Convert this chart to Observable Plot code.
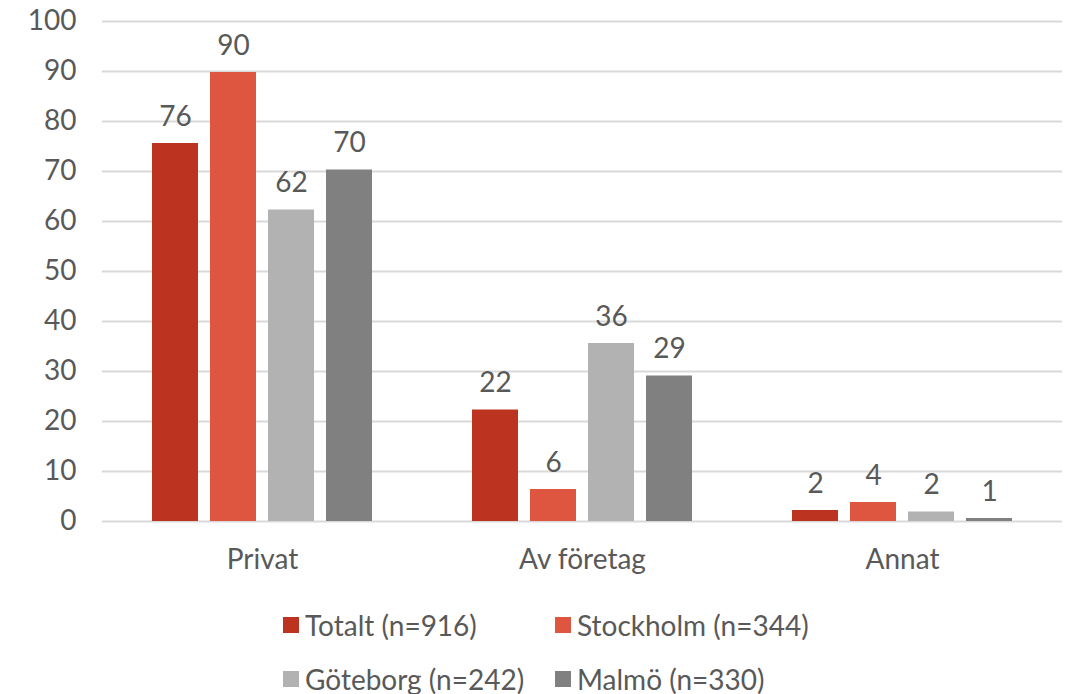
<!DOCTYPE html>
<html>
<head>
<meta charset="utf-8">
<script src="https://cdn.jsdelivr.net/npm/d3@7"></script>
<script src="https://cdn.jsdelivr.net/npm/@observablehq/plot@0.6"></script>
<style>
  html, body { margin: 0; padding: 0; background: #fff; }
  #chart { width: 1066px; font-family: Lato, "Open Sans", sans-serif; }
  #legend { position: relative; width: 1066px; height: 104px; font-family: Lato, "Open Sans", sans-serif; font-size: 28px; line-height: 1; color: #595959; }
  .item { position: absolute; display: flex; align-items: center; white-space: nowrap; transform: translateY(-50%); line-height: 1; }
  .sw { width: 16px; height: 16px; margin-right: 6px; }
</style>
</head>
<body>
<div id="chart"></div>
<script>
const categories = ["Privat", "Av företag", "Annat"];
const series = ["Totalt (n=916)", "Stockholm (n=344)", "Göteborg (n=242)", "Malmö (n=330)"];
const totalt = [75.6, 22.3, 2.2];
const stockholm = [89.8, 6.4, 3.8];
const goteborg = [62.3, 35.6, 1.9];
const malmo = [70.3, 29.1, 0.6];
const yTicks = [0, 10, 20, 30, 40, 50, 60, 70, 80, 90, 100];
const colors = ["#BC3420", "#DE563F", "#B2B2B2", "#808080"];

const seriesValues = [totalt, stockholm, goteborg, malmo];
const data = categories.flatMap((c, i) =>
  series.map((s, j) => ({category: c, series: s, value: seriesValues[j][i]}))
);

const chart = Plot.plot({
  width: 1066,
  height: 590,
  marginLeft: 102,
  marginRight: 4,
  marginTop: 21,
  marginBottom: 69,
  style: {fontFamily: "Lato, 'Open Sans', sans-serif", fontSize: "28px", color: "#595959", background: "white"},
  fx: {domain: categories, padding: 0, label: null, axis: "bottom", tickSize: 0, tickPadding: 28},
  x: {domain: series, paddingInner: 0.207, paddingOuter: 0.862, axis: null},
  y: {domain: [0, 100], ticks: yTicks, label: null, tickSize: 0, tickPadding: 26},
  color: {domain: series, range: colors},
  marks: [
    Plot.ruleY(yTicks, {stroke: "#d9d9d9", strokeWidth: 2}),
    Plot.barY(data, {fx: "category", x: "series", y: "value", fill: "series"}),
    Plot.text(data, {fx: "category", x: "series", y: "value", text: d => String(Math.round(d.value)), lineAnchor: "bottom", dy: -18, fill: "#595959", fontSize: 28})
  ]
});
document.getElementById("chart").appendChild(chart);

// Legend
const legend = document.createElement("div");
legend.id = "legend";
const pos = [[283, 35], [555, 35], [283, 89], [555, 89]];
series.forEach((s, i) => {
  const it = document.createElement("div");
  it.className = "item";
  it.style.left = pos[i][0] + "px";
  it.style.top = pos[i][1] + "px";
  const sw = document.createElement("span");
  sw.className = "sw";
  sw.style.background = colors[i];
  const t = document.createElement("span");
  t.textContent = s;
  it.appendChild(sw);
  it.appendChild(t);
  legend.appendChild(it);
});
document.body.appendChild(legend);
</script>
</body>
</html>
